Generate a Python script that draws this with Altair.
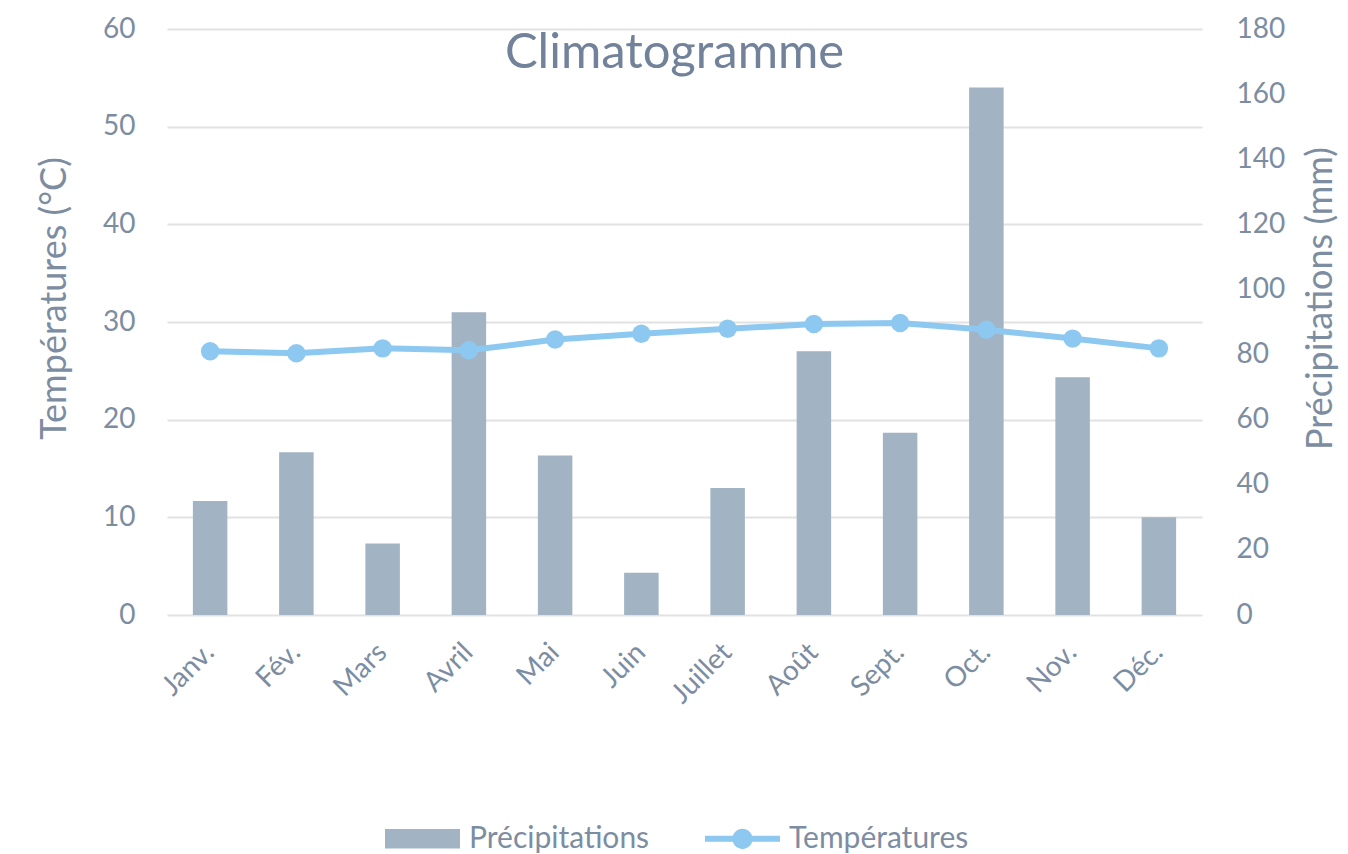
import altair as alt
import pandas as pd

months = ["Janv.", "Fév.", "Mars", "Avril", "Mai", "Juin", "Juillet", "Août", "Sept.", "Oct.", "Nov.", "Déc."]
precipitations = [35, 50, 22, 93, 49, 13, 39, 81, 56, 162, 73, 30]
temperatures = [27.0, 26.8, 27.3, 27.1, 28.2, 28.8, 29.3, 29.8, 29.9, 29.2, 28.3, 27.3]
series_names = ["Précipitations", "Températures"]
series_colors = ["#A2B3C3", "#8DC8F0"]
temp_ticks = [0, 10, 20, 30, 40, 50, 60]
precip_ticks = [0, 20, 40, 60, 80, 100, 120, 140, 160, 180]

TEXT = "#7D8DA1"
FONT = "Lato"

df = pd.DataFrame({"Mois": months, "Précipitations": precipitations, "Températures": temperatures})
df_leg = pd.DataFrame({"Série": series_names})

rect_path = "M-1,-0.26L1,-0.26L1,0.26L-1,0.26Z"
line_path = ("M-1,-0.08L1,-0.08L1,0.08L-1,0.08Z "
             "M-0.27,0A0.27,0.27,0,1,1,0.27,0A0.27,0.27,0,1,1,-0.27,0Z")

x_enc = alt.X("Mois:N", sort=months,
              scale=alt.Scale(paddingInner=0.6, paddingOuter=0.3),
              axis=alt.Axis(title=None, labelAngle=-45, labelAlign="right", labelBaseline="middle",
                            labelPadding=33, labelFontSize=28, labelColor=TEXT, labelFont=FONT,
                            domain=False, ticks=False, grid=False))

bars = alt.Chart(df).mark_bar(color=series_colors[0]).encode(
    x=x_enc,
    y=alt.Y("Précipitations:Q", scale=alt.Scale(domain=[0, 180], nice=False),
            axis=alt.Axis(orient="right", values=precip_ticks, grid=False, domain=False, ticks=False,
                          title="Précipitations (mm)", titleAngle=270, titleBaseline="top",
                          titleFontSize=36, titleFontWeight="normal", titleColor=TEXT, titleFont=FONT,
                          titlePadding=19, titleY=269, labelFontSize=28, labelColor=TEXT, labelFont=FONT,
                          labelPadding=34)),
)

line = alt.Chart(df).mark_line(color=series_colors[1], strokeWidth=6).encode(
    x=x_enc,
    y=alt.Y("Températures:Q", scale=alt.Scale(domain=[0, 60], nice=False),
            axis=alt.Axis(orient="left", values=temp_ticks, grid=True, gridColor="#E2E2E2", gridWidth=2,
                          domain=False, ticks=False,
                          title="Températures (°C)", titleFontSize=36, titleFontWeight="normal",
                          titleColor=TEXT, titleFont=FONT, titlePadding=29, titleY=269,
                          labelFontSize=28, labelColor=TEXT, labelFont=FONT, labelPadding=32)),
)

points = alt.Chart(df).mark_point(filled=True, opacity=1, size=340, color=series_colors[1]).encode(
    x=x_enc,
    y=alt.Y("Températures:Q", scale=alt.Scale(domain=[0, 60], nice=False), axis=None),
)

leg = alt.Legend(title=None, orient="none", direction="horizontal",
                 legendX=218, legendY=772, symbolSize=5625, symbolOpacity=1,
                 symbolStrokeWidth=0, labelFontSize=30, labelColor=TEXT, labelLimit=400,
                 labelFont=FONT, labelOffset=9, columnPadding=55)

legend_layer = alt.Chart(df_leg).mark_point(filled=True, opacity=0).encode(
    color=alt.Color("Série:N", scale=alt.Scale(domain=series_names, range=series_colors), legend=leg),
    shape=alt.Shape("Série:N", scale=alt.Scale(domain=series_names, range=[rect_path, line_path]),
                    legend=leg),
)

chart = alt.layer(bars, line, points, legend_layer).resolve_scale(y="independent").properties(
    width=1035, height=586,
    padding={"left": 28, "top": 7, "right": 0, "bottom": 0},
    title=alt.TitleParams("Climatogramme", fontSize=49, color="#71829A", font=FONT, fontWeight="normal",
                          anchor="middle", frame="group", offset=-102, baseline="alphabetic", dx=-10),
).configure_view(stroke=None)

chart.save("out.html", embed_options={"renderer": "svg", "actions": False})
